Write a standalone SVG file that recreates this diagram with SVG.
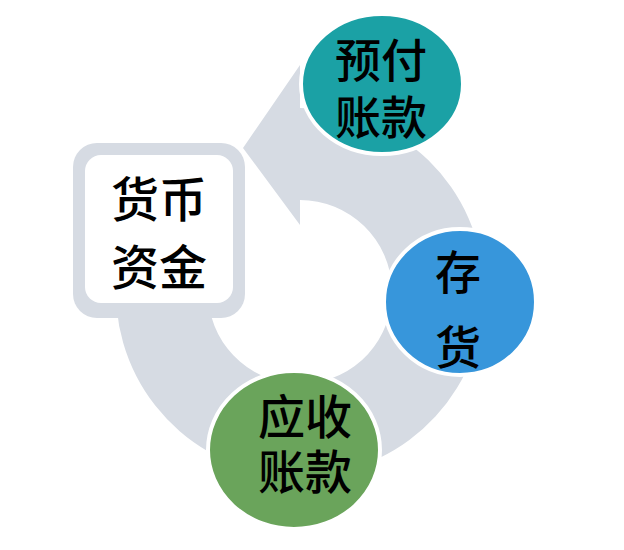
<svg xmlns="http://www.w3.org/2000/svg" width="624" height="550" viewBox="0 0 624 550">
  <style>
    .ring { fill: #d6dbe3; }
    .node { stroke: #ffffff; stroke-width: 4; }
    .lbl { font-family: "Liberation Sans", "Noto Sans CJK SC", sans-serif; font-size: 46px; font-weight: 500; fill: #000000; text-anchor: middle; }
  </style>
  <rect width="624" height="550" fill="#ffffff"/>
  <g id="connectors">
    <path class="ring" d="M 116.7 308 A 184 184 0 1 0 300 108 L 300 65 L 243 148 L 300 225 L 300 200 A 92 92 0 1 1 208.4 300 Z"/>
  </g>
  <g id="node-cash">
    <rect x="73" y="143" width="172" height="175" rx="24" fill="#d6dbe3"/>
    <rect x="85" y="155" width="148" height="148" rx="16" fill="#ffffff"/>
    <text class="lbl" style="font-size:48px"><tspan x="159" y="217">货币</tspan><tspan x="159" y="285">资金</tspan></text>
  </g>
  <g id="node-prepaid">
    <ellipse class="node" cx="382" cy="84" rx="81" ry="70" fill="#1ba1a5"/>
    <text class="lbl"><tspan x="381" y="77">预付</tspan><tspan x="381" y="134">账款</tspan></text>
  </g>
  <g id="node-inventory">
    <ellipse class="node" cx="460" cy="302" rx="76" ry="73" fill="#3796db"/>
    <text class="lbl"><tspan x="458" y="289">存</tspan><tspan x="458" y="364">货</tspan></text>
  </g>
  <g id="node-receivable">
    <ellipse class="node" cx="294" cy="450" rx="86" ry="79" fill="#6aa45b"/>
    <text class="lbl" style="font-size:47px"><tspan x="305" y="434">应收</tspan><tspan x="305" y="489">账款</tspan></text>
  </g>
</svg>
